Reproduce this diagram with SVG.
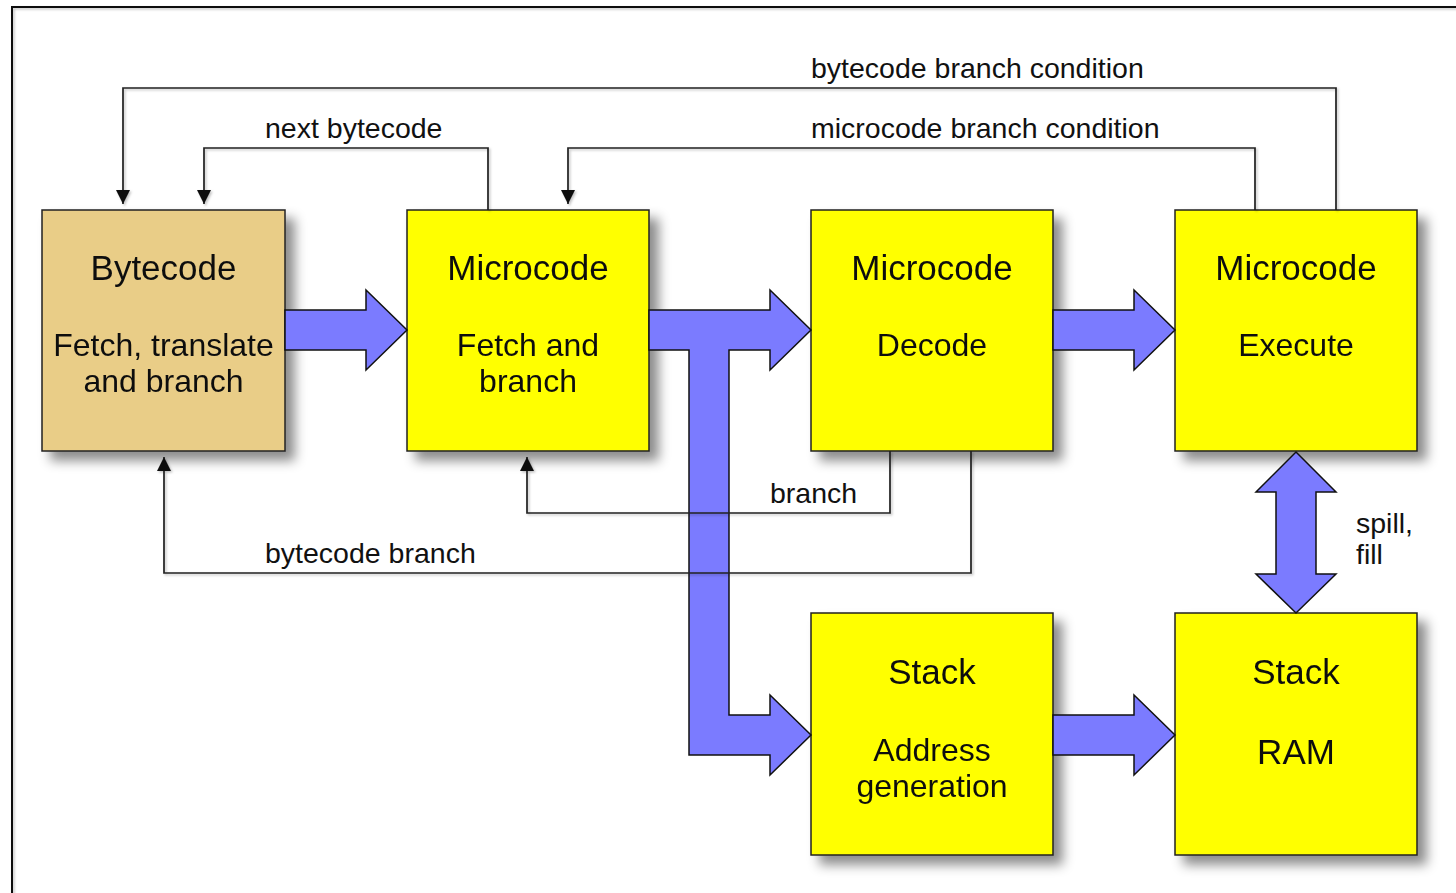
<svg xmlns="http://www.w3.org/2000/svg" width="1456" height="893" viewBox="0 0 1456 893">
  <defs>
    <filter id="boxShadow" x="-10%" y="-10%" width="130%" height="130%">
      <feDropShadow dx="9" dy="9" stdDeviation="6" flood-color="#000" flood-opacity="0.45"/>
    </filter>
    <filter id="lineShadow" x="-5%" y="-5%" width="110%" height="110%">
      <feDropShadow dx="1.5" dy="1.5" stdDeviation="1" flood-color="#000" flood-opacity="0.25"/>
    </filter>
    <marker id="head" viewBox="0 0 14 14" refX="14" refY="7" markerWidth="14" markerHeight="14" markerUnits="userSpaceOnUse" orient="auto">
      <path d="M0,0 L14,7 L0,14 z" fill="#111"/>
    </marker>
  </defs>
  <style>
    .box { stroke: #222; stroke-width: 1.5; }
    .tan { fill: #E9CD87; }
    .yel { fill: #FFFF00; }
    .title { font-family: "Liberation Sans", Arial, sans-serif; font-size: 35px; fill: #111; text-anchor: middle; }
    .sub { font-family: "Liberation Sans", Arial, sans-serif; font-size: 32px; fill: #111; text-anchor: middle; }
    .lbl { font-family: "Liberation Sans", Arial, sans-serif; font-size: 28.5px; fill: #111; }
    .fat { fill: #7B7BFF; stroke: #111; stroke-width: 1.5; stroke-linejoin: miter; }
    .wire { fill: none; stroke: #222; stroke-width: 1.7; }
  </style>

  <rect width="1456" height="893" fill="#fff"/>

  <!-- outer frame -->
  <path d="M12,893 L12,7 L1456,7" fill="none" stroke="#111" stroke-width="2" filter="url(#lineShadow)"/>

  <!-- pipeline stages -->
  <g id="bytecode-fetch" filter="url(#boxShadow)">
    <rect class="box tan" x="42" y="210" width="243" height="241"/>
    <text class="title" x="163.5" y="280">Bytecode</text>
    <text class="sub" x="163.5" y="356">Fetch, translate</text>
    <text class="sub" x="163.5" y="392">and branch</text>
  </g>
  <g id="microcode-fetch" filter="url(#boxShadow)">
    <rect class="box yel" x="407" y="210" width="242" height="241"/>
    <text class="title" x="528" y="280">Microcode</text>
    <text class="sub" x="528" y="356">Fetch and</text>
    <text class="sub" x="528" y="392">branch</text>
  </g>
  <g id="microcode-decode" filter="url(#boxShadow)">
    <rect class="box yel" x="811" y="210" width="242" height="241"/>
    <text class="title" x="932" y="280">Microcode</text>
    <text class="sub" x="932" y="356">Decode</text>
  </g>
  <g id="microcode-execute" filter="url(#boxShadow)">
    <rect class="box yel" x="1175" y="210" width="242" height="241"/>
    <text class="title" x="1296" y="280">Microcode</text>
    <text class="sub" x="1296" y="356">Execute</text>
  </g>
  <g id="stack-address" filter="url(#boxShadow)">
    <rect class="box yel" x="811" y="613" width="242" height="242"/>
    <text class="title" x="932" y="684">Stack</text>
    <text class="sub" x="932" y="761">Address</text>
    <text class="sub" x="932" y="797">generation</text>
  </g>
  <g id="stack-ram" filter="url(#boxShadow)">
    <rect class="box yel" x="1175" y="613" width="242" height="242"/>
    <text class="title" x="1296" y="684">Stack</text>
    <text class="title" x="1296" y="764">RAM</text>
  </g>

  <!-- data paths -->
  <g id="datapaths">
    <polygon class="fat" points="285,310 366,310 366,290 407,330 366,370 366,350 285,350"/>
    <polygon class="fat" points="649,310 770,310 770,290 811,330 770,370 770,350 729,350 729,715 770,715 770,695 811,735 770,775 770,755 689,755 689,350 649,350"/>
    <polygon class="fat" points="1053,310 1134,310 1134,290 1175,330 1134,370 1134,350 1053,350"/>
    <polygon class="fat" points="1053,715 1134,715 1134,695 1175,735 1134,775 1134,755 1053,755"/>
    <polygon class="fat" points="1296,452 1336,492 1316,492 1316,574 1336,574 1296,613 1256,574 1276,574 1276,492 1256,492"/>
  </g>

  <!-- control connectors -->
  <g id="connectors" filter="url(#lineShadow)">
    <path class="wire" d="M1336,210 L1336,88 L123,88 L123,204" marker-end="url(#head)"/>
    <path class="wire" d="M488,210 L488,148 L204,148 L204,204" marker-end="url(#head)"/>
    <path class="wire" d="M1255,210 L1255,148 L568,148 L568,204" marker-end="url(#head)"/>
    <path class="wire" d="M890,451 L890,513 L527,513 L527,457" marker-end="url(#head)"/>
    <path class="wire" d="M971,451 L971,573 L164,573 L164,457" marker-end="url(#head)"/>
  </g>

  <!-- connector labels -->
  <g id="labels">
    <text class="lbl" x="811" y="78">bytecode branch condition</text>
    <text class="lbl" x="265" y="138">next bytecode</text>
    <text class="lbl" x="811" y="138">microcode branch condition</text>
    <text class="lbl" x="770" y="503">branch</text>
    <text class="lbl" x="265" y="563">bytecode branch</text>
    <text class="lbl" x="1356" y="533">spill,</text>
    <text class="lbl" x="1356" y="564">fill</text>
  </g>
</svg>
